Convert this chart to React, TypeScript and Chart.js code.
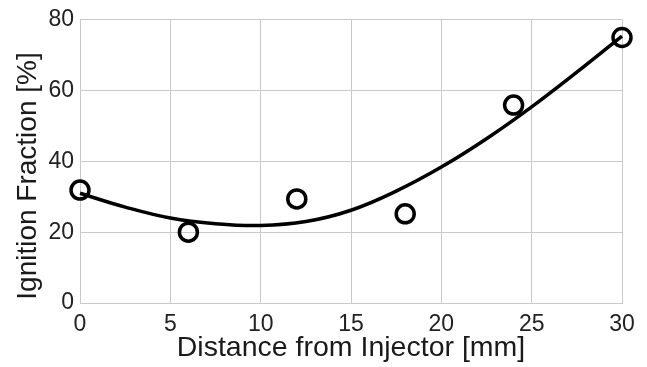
import React, { useEffect, useRef } from "react";
import { Chart, registerables } from "chart.js";

Chart.register(...registerables);

const measuredDistance = [0, 6, 12, 18, 24, 30];
const measuredFraction = [31.9, 20.0, 29.4, 25.2, 55.9, 75.0];

const fitDistance = [0, 2.5, 5, 7.5, 10, 12.5, 15, 17.5, 20, 22.5, 25, 27.5, 30];
const fitFraction = [31.0, 27.1, 24.0, 22.4, 21.9, 23.0, 26.2, 31.6, 38.4, 46.4, 55.4, 65.2, 75.4];

const xTitle = "Distance from Injector [mm]";
const yTitle = "Ignition Fraction [%]";

const FONT = "'Liberation Sans', Arial, Helvetica, sans-serif";
const GRID = "#c9c9c9";

const yTitlePlugin = {
  id: "yTitlePlugin",
  afterDraw(chart: any) {
    const ctx = chart.ctx;
    ctx.save();
    ctx.translate(28, 176);
    ctx.rotate(-Math.PI / 2);
    ctx.font = `28px ${FONT}`;
    ctx.fillStyle = "#1a1a1a";
    ctx.textAlign = "center";
    ctx.textBaseline = "middle";
    ctx.fillText(yTitle, 0, 0);
    ctx.restore();
  },
};

export default function App() {
  const ref = useRef<HTMLCanvasElement | null>(null);
  useEffect(() => {
    if (!ref.current) return;
    const chart = new Chart(ref.current, {
      type: "scatter",
      data: {
        datasets: [
          {
            type: "line",
            data: fitDistance.map((x, i) => ({ x, y: fitFraction[i] })),
            borderColor: "#000",
            borderWidth: 3.5,
            pointRadius: 0,
            tension: 0.4,
            fill: false,
            clip: false,
          } as any,
          {
            type: "scatter",
            data: measuredDistance.map((x, i) => ({ x, y: measuredFraction[i] })),
            borderColor: "#000",
            backgroundColor: "rgba(0,0,0,0)",
            borderWidth: 3.5,
            pointRadius: 9,
            pointStyle: "circle",
            clip: false,
          } as any,
        ],
      },
      options: {
        responsive: false,
        animation: false,
        layout: { padding: { top: 18, right: 25, left: 0, bottom: 0 } },
        plugins: { legend: { display: false }, tooltip: { enabled: false } },
        scales: {
          x: {
            type: "linear",
            min: 0,
            max: 30,
            afterFit(scale: any) {
              scale.height = 64;
            },
            ticks: { stepSize: 5, color: "#222", font: { family: FONT, size: 23 }, padding: 8 },
            grid: { color: GRID, drawTicks: false, lineWidth: 1 },
            border: { display: true, color: GRID },
            title: {
              display: true,
              text: xTitle,
              color: "#1a1a1a",
              font: { family: FONT, size: 28.5 },
              padding: { top: 0, bottom: 2 },
            },
          },
          y: {
            min: 0,
            max: 80,
            afterFit(scale: any) {
              scale.width = 80;
            },
            ticks: { stepSize: 20, color: "#222", font: { family: FONT, size: 23 }, padding: 6 },
            grid: { color: GRID, drawTicks: false, lineWidth: 1 },
            border: { display: true, color: GRID },
          },
        },
      },
      plugins: [yTitlePlugin],
    });
    return () => chart.destroy();
  }, []);
  return (
    <div style={{ position: "fixed", left: 0, top: 0, width: 647, height: 367, background: "#fff" }}>
      <canvas ref={ref} width={647} height={367} />
    </div>
  );
}
